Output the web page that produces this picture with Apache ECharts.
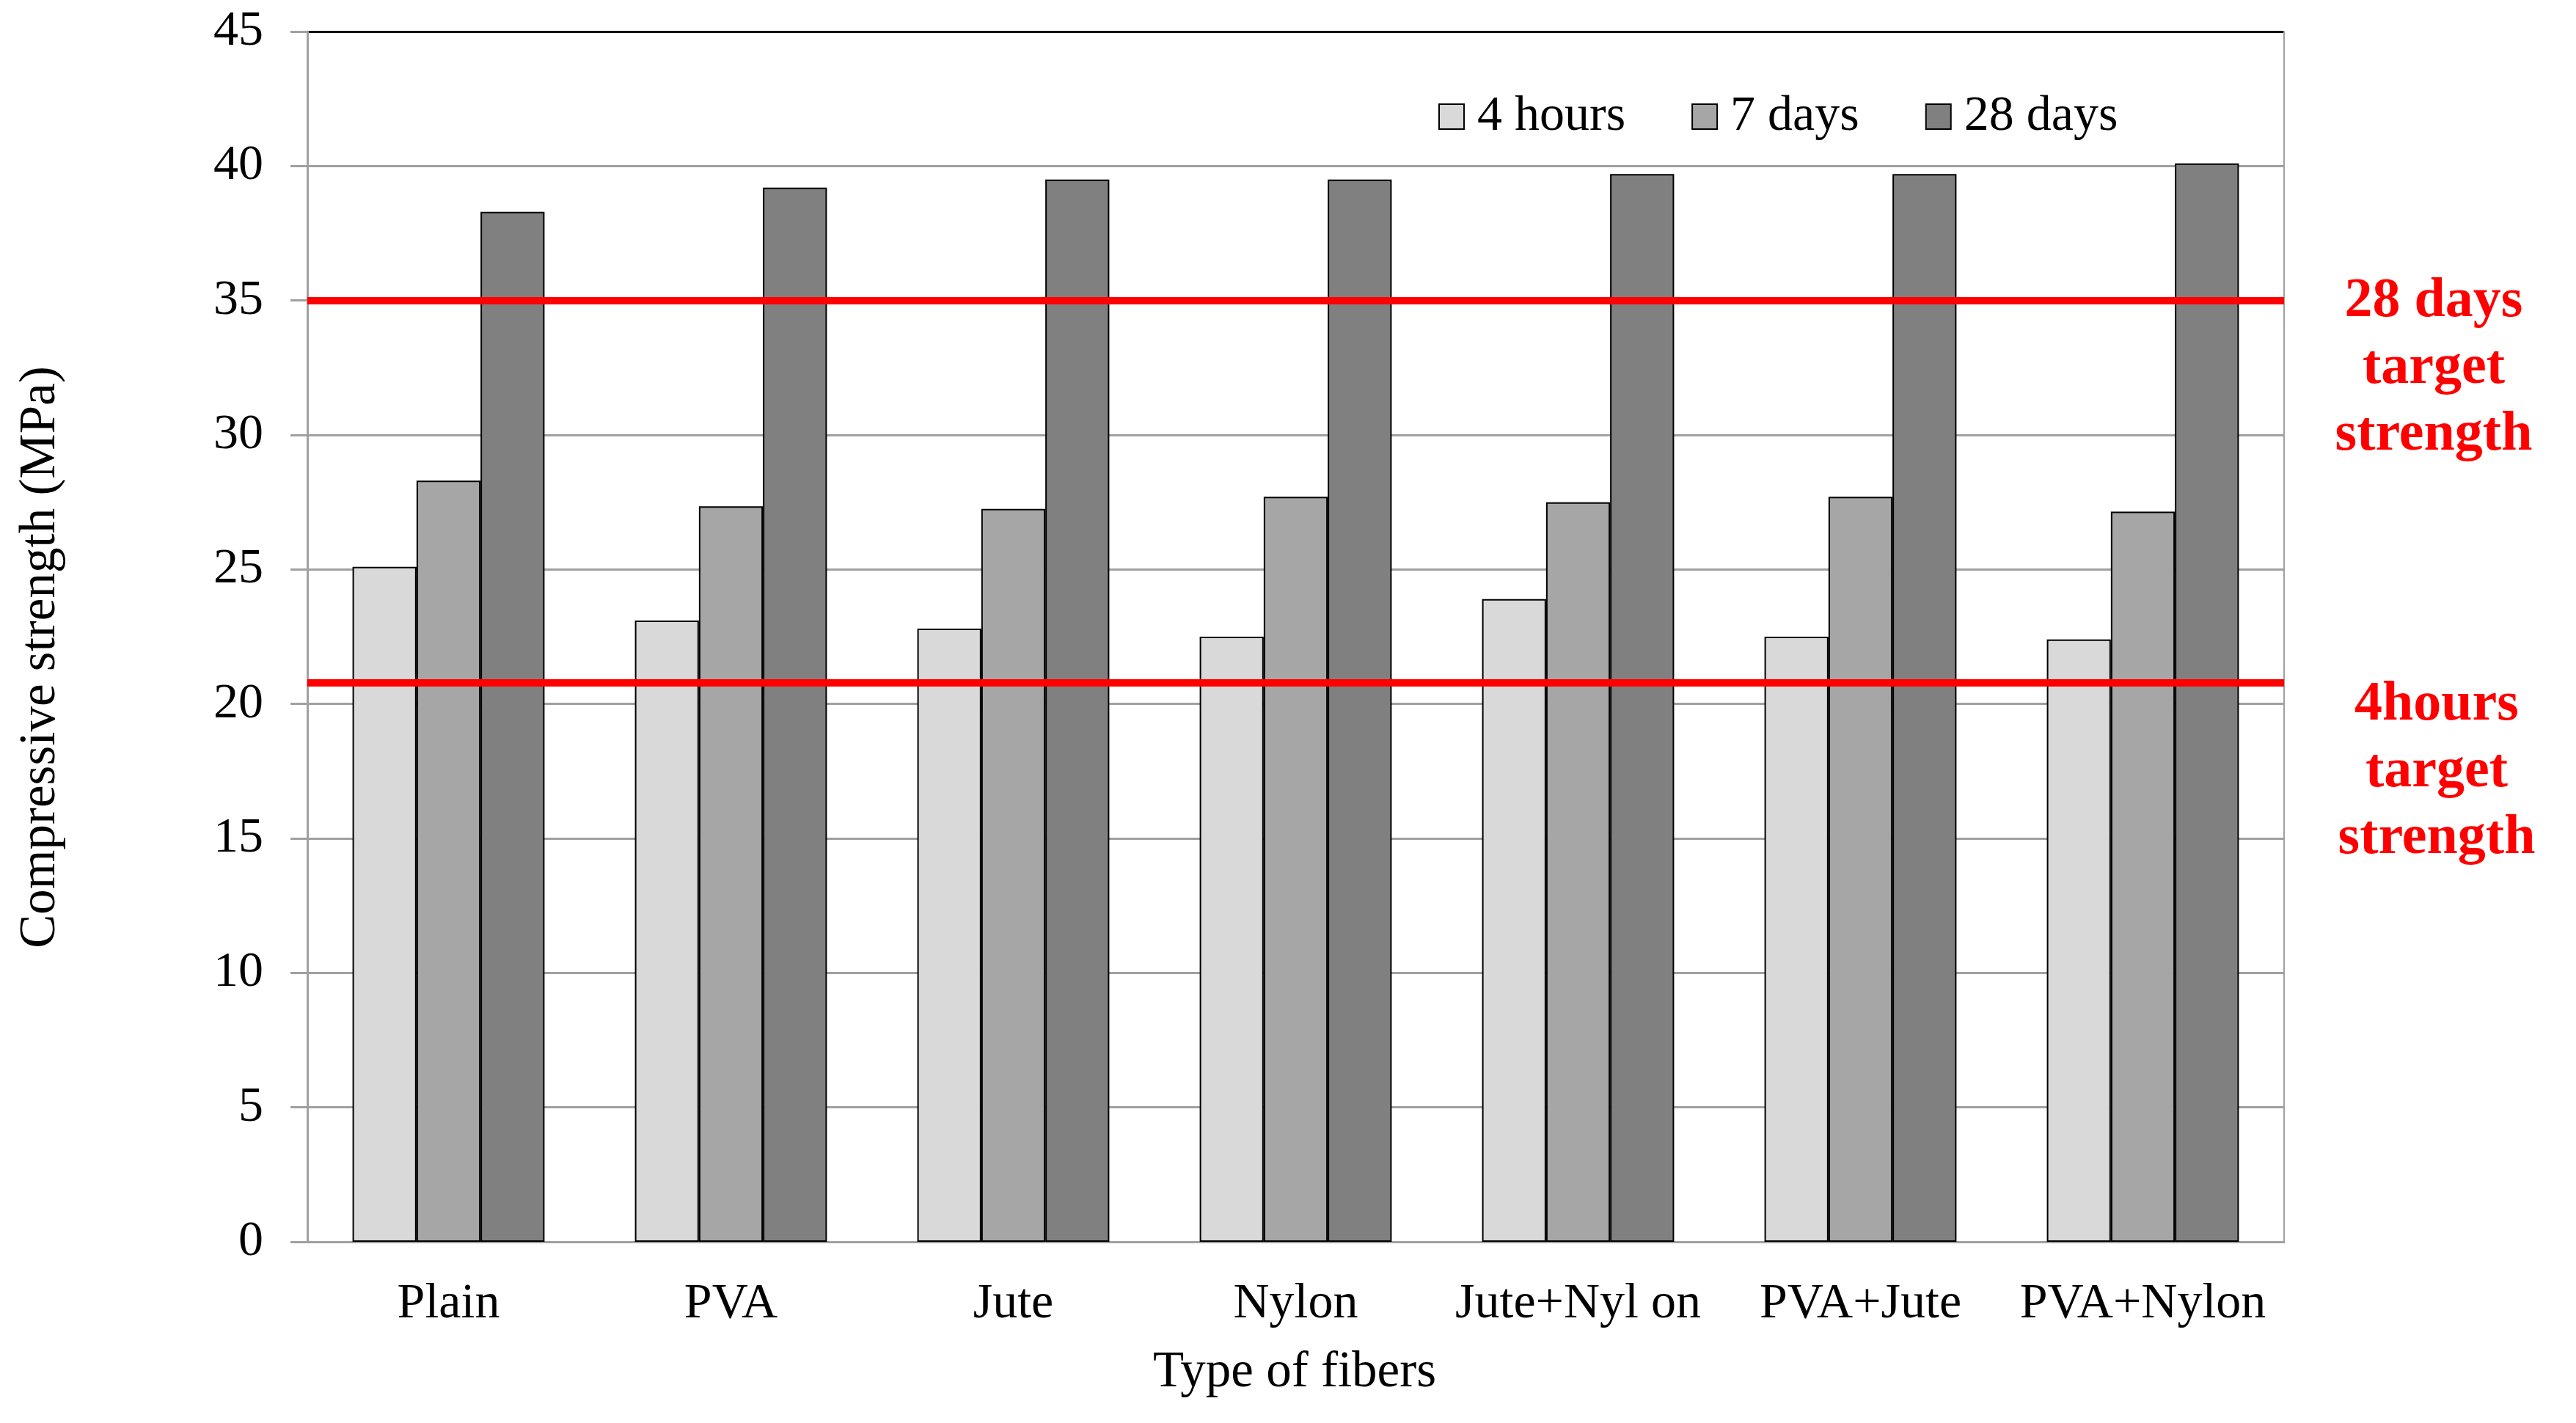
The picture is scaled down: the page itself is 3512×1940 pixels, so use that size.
<!DOCTYPE html>
<html>
<head>
<meta charset="utf-8">
<script src="https://cdn.jsdelivr.net/npm/echarts@6/dist/echarts.min.js"></script>
<style>
html,body{margin:0;padding:0;background:#fff;}
#c{width:3512px;height:1940px;}
</style>
</head>
<body>
<div id="c"></div>
<script>
const categories = ['Plain', 'PVA', 'Jute', 'Nylon', 'Jute+Nyl on', 'PVA+Jute', 'PVA+Nylon'];
const seriesNames = ['4 hours', '7 days', '28 days'];
const hours4 = [25.1, 23.1, 22.8, 22.5, 23.9, 22.5, 22.4];
const days7 = [28.3, 27.35, 27.25, 27.7, 27.5, 27.7, 27.15];
const days28 = [38.3, 39.2, 39.5, 39.5, 39.7, 39.7, 40.1];
const target28 = 35;
const target4h = 20.8;
const yTicks = [0, 5, 10, 15, 20, 25, 30, 35, 40, 45];

const FONT = '"Liberation Serif", "Times New Roman", serif';
const colors = ['#d9d9d9', '#a6a6a6', '#808080'];
const chart = echarts.init(document.getElementById('c'));

function barSeries(name, data, color, extra) {
  return Object.assign({
    name: name,
    type: 'bar',
    data: data,
    barGap: '0%',
    barCategoryGap: '32%',
    itemStyle: { color: color, borderColor: '#000', borderWidth: 2 },
    emphasis: { disabled: true }
  }, extra || {});
}

const splitColors = yTicks.map(function (v, i) { return i === yTicks.length - 1 ? '#111' : '#a0a0a0'; });

chart.setOption({
  animation: false,
  backgroundColor: '#fff',
  textStyle: { fontFamily: FONT },
  grid: { left: 419, right: 398, top: 43, bottom: 247, containLabel: false },
  legend: {
    data: seriesNames,
    left: 1956,
    top: 120,
    icon: 'rect',
    itemWidth: 34,
    itemHeight: 34,
    itemGap: 90,
    textStyle: { fontFamily: FONT, fontSize: 68, color: '#000', padding: [0, 0, 0, 13] }
  },
  xAxis: {
    type: 'category',
    data: categories,
    position: 'bottom',
    axisLine: { lineStyle: { color: '#a0a0a0', width: 3 } },
    axisTick: { show: false },
    axisLabel: { fontFamily: FONT, fontSize: 68, color: '#000', margin: 51, interval: 0 }
  },
  yAxis: [{
    type: 'value',
    min: 0,
    max: 45,
    interval: 5,
    axisLine: { show: true, lineStyle: { color: '#a0a0a0', width: 3 } },
    axisTick: { show: true, length: 23, lineStyle: { color: '#a0a0a0', width: 3 } },
    axisLabel: { fontFamily: FONT, fontSize: 68, color: '#000', margin: 60,
      formatter: function (v) { return yTicks.indexOf(v) >= 0 ? String(v) : ''; } },
    splitLine: { show: true, lineStyle: { color: splitColors, width: 3 } }
  }, {
    type: 'value',
    min: 0,
    max: 45,
    interval: 5,
    position: 'right',
    axisLine: { show: true, lineStyle: { color: '#a0a0a0', width: 2 } },
    axisTick: { show: false },
    axisLabel: { show: false },
    splitLine: { show: false }
  }],
  series: [
    barSeries(seriesNames[0], hours4, colors[0]),
    barSeries(seriesNames[1], days7, colors[1]),
    barSeries(seriesNames[2], days28, colors[2], {
      markLine: {
        silent: true,
        symbol: ['none', 'none'],
        label: { show: false },
        lineStyle: { color: '#ff0000', width: 10, type: 'solid' },
        data: [{ yAxis: target28 }, { yAxis: target4h }]
      }
    })
  ],
  graphic: [
    { type: 'text', x: 1765, y: 1872, style: { text: 'Type of fibers', fill: '#000',
      font: '69px "Liberation Serif", "Times New Roman", serif', align: 'center', verticalAlign: 'middle' } },
    { type: 'text', x: 56, y: 896, rotation: Math.PI / 2, style: { text: 'Compressive strength (MPa)', fill: '#000',
      font: '69px "Liberation Serif", "Times New Roman", serif', align: 'center', verticalAlign: 'middle' } },
    { type: 'text', x: 3318, y: 366, z: 100, style: { text: '28 days\ntarget\nstrength', fill: '#ff0000',
      font: 'bold 76px "Liberation Serif", "Times New Roman", serif', align: 'center', verticalAlign: 'top', lineHeight: 91 } },
    { type: 'text', x: 3322, y: 916, z: 100, style: { text: '4hours\ntarget\nstrength', fill: '#ff0000',
      font: 'bold 76px "Liberation Serif", "Times New Roman", serif', align: 'center', verticalAlign: 'top', lineHeight: 91 } }
  ]
});
</script>
</body>
</html>
